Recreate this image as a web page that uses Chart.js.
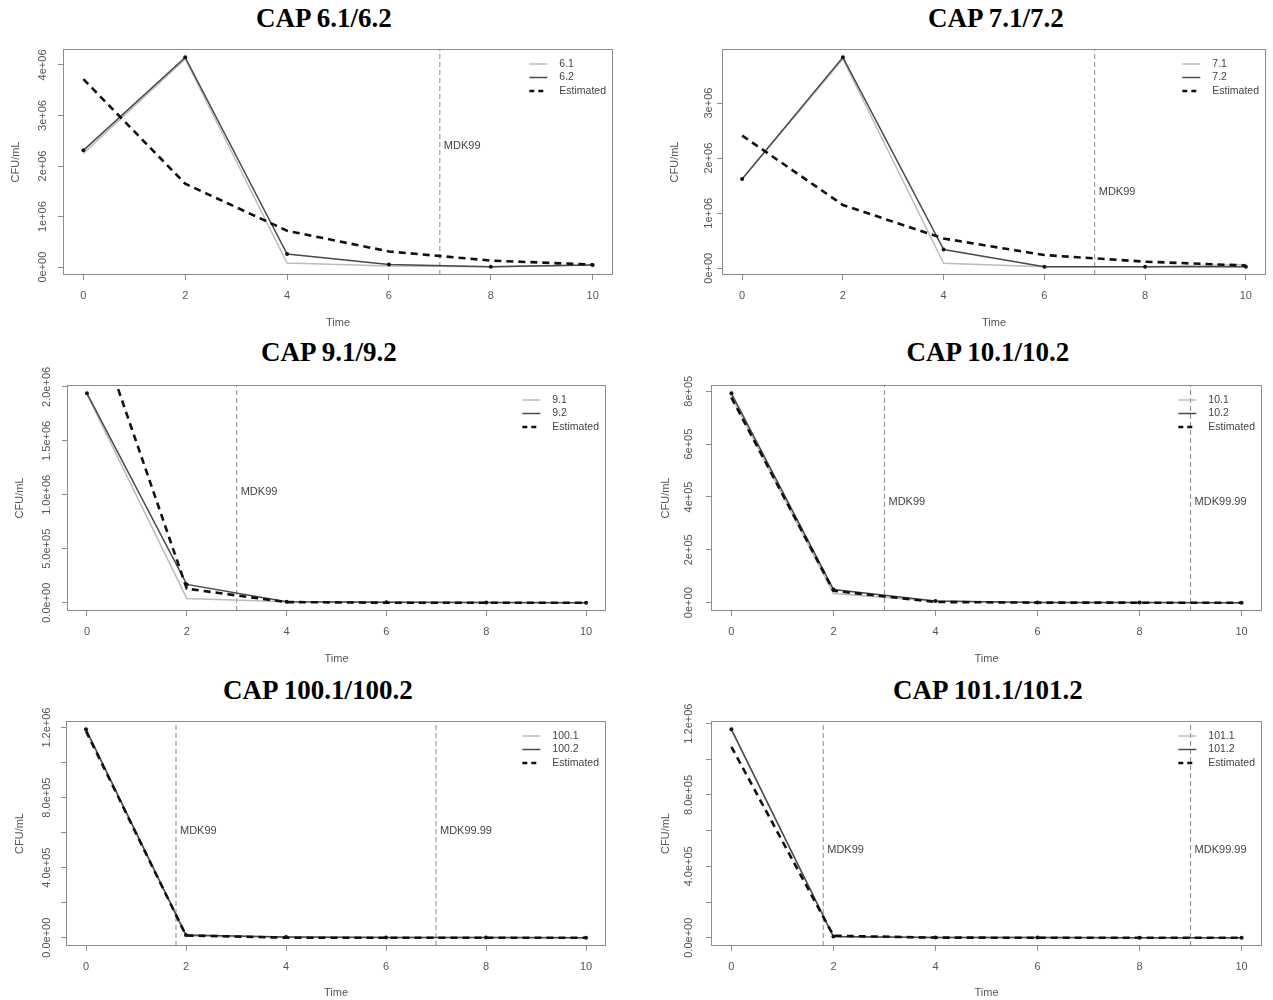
<!DOCTYPE html>
<html>
<head>
<meta charset="utf-8">
<script src="https://cdn.jsdelivr.net/npm/chart.js@4.4.1/dist/chart.umd.min.js"></script>
<style>
  html, body { margin: 0; padding: 0; background: #fff; }
  body { position: relative; width: 1273px; height: 1000px; overflow: hidden; }
  .ptitle { position: absolute; font: bold 27px "Liberation Serif", "Times New Roman", serif; line-height: 30px;
            color: #000; white-space: nowrap; transform: translateX(-50%); }
  canvas { position: absolute; }
</style>
</head>
<body>
<script>
// ---------------- DATA ----------------
const time = [0, 2, 4, 6, 8, 10];
const xTickValues = [0, 2, 4, 6, 8, 10];
const xTickLabels = ["0", "2", "4", "6", "8", "10"];

const titles = ["CAP 6.1/6.2", "CAP 7.1/7.2", "CAP 9.1/9.2", "CAP 10.1/10.2", "CAP 100.1/100.2", "CAP 101.1/101.2"];

// CAP 6
const names6 = ["6.1", "6.2", "Estimated"];
const cap6_1 = [2250000, 4120000, 80000, 20000, 10000, 40000];
const cap6_2 = [2310000, 4150000, 260000, 50000, 10000, 40000];
const est6   = [3720000, 1650000, 720000, 310000, 130000, 50000];
const yTicks6 = [0, 1e6, 2e6, 3e6, 4e6];
const yLabels6 = ["0e+00", "1e+06", "2e+06", "3e+06", "4e+06"];
const mdk6 = [7];
const mdkLabels6 = ["MDK99"];

// CAP 7
const names7 = ["7.1", "7.2", "Estimated"];
const cap7_1 = [1620000, 3800000, 90000, 30000, 30000, 70000];
const cap7_2 = [1620000, 3830000, 340000, 30000, 30000, 30000];
const est7   = [2410000, 1150000, 540000, 240000, 120000, 50000];
const yTicks7 = [0, 1e6, 2e6, 3e6];
const yLabels7 = ["0e+00", "1e+06", "2e+06", "3e+06"];
const mdk7 = [7];
const mdkLabels7 = ["MDK99"];

// CAP 9
const names9 = ["9.1", "9.2", "Estimated"];
const cap9_1 = [1930000, 40000, 10000, 5000, 2000, 1000];
const cap9_2 = [1940000, 170000, 10000, 5000, 2000, 1000];
const est9   = [2820000, 130000, 6000, 300, 10, 0];
const yTicks9 = [0, 5e5, 1e6, 1.5e6, 2e6];
const yLabels9 = ["0.0e+00", "5.0e+05", "1.0e+06", "1.5e+06", "2.0e+06"];
const mdk9 = [3];
const mdkLabels9 = ["MDK99"];

// CAP 10
const names10 = ["10.1", "10.2", "Estimated"];
const cap10_1 = [780000, 35000, 5000, 1000, 500, 200];
const cap10_2 = [792000, 50000, 6000, 1000, 500, 200];
const est10   = [776000, 45000, 2600, 150, 10, 1];
const yTicks10 = [0, 2e5, 4e5, 6e5, 8e5];
const yLabels10 = ["0e+00", "2e+05", "4e+05", "6e+05", "8e+05"];
const mdk10 = [3, 9];
const mdkLabels10 = ["MDK99", "MDK99.99"];

// CAP 100
const names100 = ["100.1", "100.2", "Estimated"];
const cap100_1 = [1185000, 10000, 4000, 1000, 500, 200];
const cap100_2 = [1190000, 15000, 4000, 1000, 500, 200];
const est100   = [1180000, 13000, 150, 2, 0, 0];
const yTicks100 = [0, 2e5, 4e5, 6e5, 8e5, 1e6, 1.2e6];
const yLabels100 = ["0.0e+00", "", "4.0e+05", "", "8.0e+05", "", "1.2e+06"];
const mdk100 = [1.8, 7];
const mdkLabels100 = ["MDK99", "MDK99.99"];

// CAP 101
const names101 = ["101.1", "101.2", "Estimated"];
const cap101_1 = [1165000, 5000, 1000, 500, 200, 100];
const cap101_2 = [1168000, 6000, 1000, 500, 200, 100];
const est101   = [1070000, 11000, 110, 1, 0, 0];
const yTicks101 = [0, 2e5, 4e5, 6e5, 8e5, 1e6, 1.2e6];
const yLabels101 = ["0.0e+00", "", "4.0e+05", "", "8.0e+05", "", "1.2e+06"];
const mdk101 = [1.8, 9];
const mdkLabels101 = ["MDK99", "MDK99.99"];

// ---------------- LAYOUT (pixels, not data) ----------------
const layout = [
  {cl: 0,   ct: 0,   cw: 636, ch: 336, bl: 63,  br: 613,  bt: 49,  bb: 275, tx: 324, ty: 18,  yt: 16,  yl: 43,  tm: 323, mf: 0.43},
  {cl: 636, ct: 0,   cw: 637, ch: 336, bl: 722, br: 1266, bt: 49,  bb: 275, tx: 996, ty: 18,  yt: 675, yl: 709, tm: 323, mf: 0.634},
  {cl: 0,   ct: 336, cw: 636, ch: 336, bl: 67,  br: 606,  bt: 385, bb: 611, tx: 329, ty: 352, yt: 20,  yl: 47,  tm: 659, mf: 0.474},
  {cl: 636, ct: 336, cw: 637, ch: 336, bl: 711, br: 1262, bt: 385, bb: 611, tx: 988, ty: 352, yt: 666, yl: 689, tm: 659, mf: 0.517},
  {cl: 0,   ct: 672, cw: 636, ch: 328, bl: 66,  br: 606,  bt: 721, bb: 946, tx: 318, ty: 690, yt: 20,  yl: 47,  tm: 993, mf: 0.489},
  {cl: 636, ct: 672, cw: 637, ch: 328, bl: 711, br: 1262, bt: 721, bb: 946, tx: 988, ty: 690, yt: 666, yl: 689, tm: 993, mf: 0.572}
];

const panels = [
  {names: names6,   s1: cap6_1,   s2: cap6_2,   est: est6,   yT: yTicks6,   yL: yLabels6,   mdk: mdk6,   mdkL: mdkLabels6},
  {names: names7,   s1: cap7_1,   s2: cap7_2,   est: est7,   yT: yTicks7,   yL: yLabels7,   mdk: mdk7,   mdkL: mdkLabels7},
  {names: names9,   s1: cap9_1,   s2: cap9_2,   est: est9,   yT: yTicks9,   yL: yLabels9,   mdk: mdk9,   mdkL: mdkLabels9},
  {names: names10,  s1: cap10_1,  s2: cap10_2,  est: est10,  yT: yTicks10,  yL: yLabels10,  mdk: mdk10,  mdkL: mdkLabels10},
  {names: names100, s1: cap100_1, s2: cap100_2, est: est100, yT: yTicks100, yL: yLabels100, mdk: mdk100, mdkL: mdkLabels100},
  {names: names101, s1: cap101_1, s2: cap101_2, est: est101, yT: yTicks101, yL: yLabels101, mdk: mdk101, mdkL: mdkLabels101}
];

// ---------------- STYLE ----------------
const FONT = '"Liberation Sans", Arial, Helvetica, sans-serif';
const C_LIGHT = '#bcbcbc', C_DARK = '#4a4a4a', C_EST = '#111111', C_AXIS = '#8c8c8c', C_TEXT = '#555555';
const HALF = 6.6; // half line height of 11px axis title

const decor = {
  id: 'decor',
  afterDatasetsDraw(chart, args, o) {
    const ctx = chart.ctx, a = chart.chartArea;
    ctx.save();
    // box
    ctx.setLineDash([]);
    ctx.strokeStyle = C_AXIS; ctx.lineWidth = 1;
    ctx.strokeRect(Math.round(a.left) + 0.5, Math.round(a.top) + 0.5,
                   Math.round(a.right - a.left) - 1, Math.round(a.bottom - a.top) - 1);
    // y tick labels (rotated, R style)
    const ys = chart.scales.y, xs = chart.scales.x;
    ctx.font = '11px ' + FONT; ctx.fillStyle = C_TEXT;
    ctx.textAlign = 'center'; ctx.textBaseline = 'middle';
    o.yT.forEach((v, i) => {
      const lab = o.yL[i]; if (!lab) return;
      const py = ys.getPixelForValue(v);
      ctx.save(); ctx.translate(o.ylx, py); ctx.rotate(-Math.PI / 2); ctx.fillText(lab, 0, 0); ctx.restore();
    });
    // MDK labels
    ctx.textAlign = 'left'; ctx.fillStyle = '#444';
    o.mdk.forEach((m, i) => {
      ctx.fillText(o.mdkL[i], xs.getPixelForValue(m) + 4, a.top + o.mf * (a.bottom - a.top));
    });
    // legend
    ctx.font = '10.5px ' + FONT;
    const items = chart.data.datasets.slice(0, 3);
    const maxW = Math.max(...items.map(d => ctx.measureText(d.label).width));
    const tx = a.right - maxW - 7;
    items.forEach((d, i) => {
      const y = a.top + 15 + i * 13.5;
      ctx.strokeStyle = d.borderColor; ctx.lineWidth = d.borderWidth;
      ctx.setLineDash(d.borderDash ? [5, 4] : []);
      ctx.beginPath(); ctx.moveTo(tx - 30, y); ctx.lineTo(tx - 12, y); ctx.stroke();
      ctx.setLineDash([]);
      ctx.fillStyle = '#444'; ctx.textAlign = 'left'; ctx.textBaseline = 'middle';
      ctx.fillText(d.label, tx, y);
    });
    ctx.restore();
  }
};

function pts(vals) { return time.map((t, i) => ({x: t, y: vals[i]})); }
function yRange(a, b) {
  const all = a.concat(b);
  const lo = Math.min(...all), hi = Math.max(...all), r = hi - lo;
  return [lo - 0.04 * r, hi + 0.04 * r];
}

panels.forEach((p, k) => {
  const L = layout[k];
  const t = document.createElement('div');
  t.className = 'ptitle'; t.textContent = titles[k];
  t.style.left = L.tx + 'px'; t.style.top = (L.ty - 15) + 'px';
  document.body.appendChild(t);

  const cv = document.createElement('canvas');
  cv.width = L.cw; cv.height = L.ch;
  cv.style.left = L.cl + 'px'; cv.style.top = L.ct + 'px';
  cv.style.width = L.cw + 'px'; cv.style.height = L.ch + 'px';
  document.body.appendChild(cv);

  const [ymin, ymax] = yRange(p.s1, p.s2);

  const datasets = [
    {label: p.names[0], data: pts(p.s1), borderColor: C_LIGHT, borderWidth: 1.5, pointRadius: 0, order: 2},
    {label: p.names[1], data: pts(p.s2), borderColor: C_DARK, borderWidth: 1.5, pointRadius: 2,
     pointBackgroundColor: '#111', pointBorderWidth: 0, order: 1},
    {label: p.names[2], data: pts(p.est), borderColor: C_EST, borderWidth: 2.6, borderDash: [7, 5], pointRadius: 0, order: 0}
  ];
  p.mdk.forEach(m => datasets.push({
    label: '', data: [{x: m, y: ymin}, {x: m, y: ymax}], borderColor: '#8a8a8a', borderWidth: 1,
    borderDash: [5, 3], pointRadius: 0, order: 3
  }));

  const gridOpt = {drawOnChartArea: false, drawTicks: true, tickLength: 5, color: C_AXIS, lineWidth: 1};

  new Chart(cv, {
    type: 'line',
    data: {datasets},
    plugins: [decor],
    options: {
      responsive: false, animation: false, devicePixelRatio: 1,
      layout: {padding: {
        left: L.yt - L.cl - HALF, top: L.bt - L.ct,
        right: L.cl + L.cw - L.br, bottom: L.ct + L.ch - (L.tm + HALF)
      }},
      plugins: {
        legend: {display: false}, tooltip: {enabled: false}, title: {display: false},
        decor: {yT: p.yT, yL: p.yL, ylx: L.yl - L.cl, mdk: p.mdk, mdkL: p.mdkL, mf: L.mf}
      },
      scales: {
        x: {
          type: 'linear', min: -0.4, max: 10.4,
          afterBuildTicks: s => { s.ticks = xTickValues.map(v => ({value: v})); },
          afterFit: s => { s.height = L.tm + HALF - L.bb; },
          grid: gridOpt, border: {display: false},
          ticks: {font: {family: FONT, size: 11}, color: C_TEXT, padding: 9, maxRotation: 0, minRotation: 0,
                  autoSkip: false, callback: (v, i) => xTickLabels[i]},
          title: {display: true, text: 'Time', font: {family: FONT, size: 11}, color: C_TEXT, padding: 0}
        },
        y: {
          type: 'linear', min: ymin, max: ymax,
          afterBuildTicks: s => { s.ticks = p.yT.map(v => ({value: v})); },
          afterFit: s => { s.width = L.bl - (L.yt - HALF); },
          grid: gridOpt, border: {display: false},
          ticks: {display: false},
          title: {display: true, text: 'CFU/mL', font: {family: FONT, size: 11}, color: C_TEXT, padding: 0}
        }
      }
    }
  });
});
</script>
</body>
</html>
